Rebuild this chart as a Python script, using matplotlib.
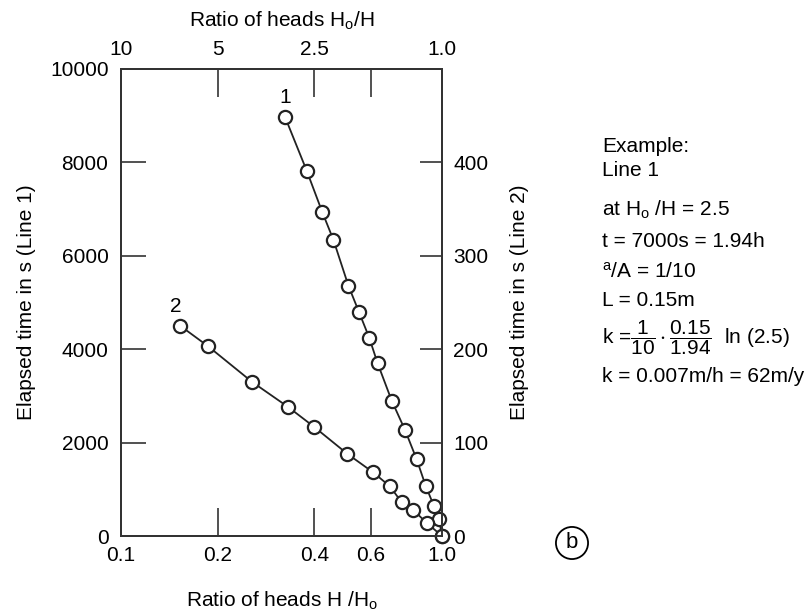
import numpy as np
import matplotlib
matplotlib.use("Agg")
import matplotlib.pyplot as plt

plt.rcParams['font.family'] = ['Liberation Sans', 'DejaVu Sans']
plt.rcParams['mathtext.fontset'] = 'custom'
plt.rcParams['mathtext.rm'] = 'Liberation Sans'
plt.rcParams['mathtext.it'] = 'Liberation Sans'
plt.rcParams['mathtext.default'] = 'regular'

# line 1 : H/Ho vs elapsed time in s (left axis)
ratio_line1 = [0.324, 0.379, 0.424, 0.459, 0.511, 0.551, 0.593, 0.630, 0.697,
               0.767, 0.834, 0.890, 0.944, 0.979, 1.0]
time_line1 = [8980, 7820, 6930, 6340, 5360, 4800, 4250, 3700, 2900,
              2270, 1640, 1070, 640, 360, 0]

# line 2 : H/Ho vs elapsed time in s (right axis)
ratio_line2 = [0.153, 0.187, 0.256, 0.332, 0.399, 0.507, 0.611, 0.689, 0.749,
               0.813, 0.896, 1.0]
time_line2 = [225, 203, 165, 138, 117, 88, 68, 53, 36, 28, 14, 0]

bottom_ticks = [0.1, 0.2, 0.4, 0.6, 1.0]
bottom_labels = ["0.1", "0.2", "0.4", "0.6", "1.0"]
top_ratio = [10, 5, 2.5, 1 / 0.6, 1.0]
top_labels = ["10", "5", "2.5", "", "1.0"]
left_ticks = [0, 2000, 4000, 6000, 8000, 10000]
right_ticks = [0, 100, 200, 300, 400]

example_lines = [
    "Example:",
    "Line 1",
    "at H$_o$ /H = 2.5",
    "t = 7000s = 1.94h",
    "$^a$/A = 1/10",
    "L = 0.15m",
    r"k =$\dfrac{1}{10}\cdot\dfrac{0.15}{1.94}$  ln (2.5)",
    "k = 0.007m/h = 62m/y",
]
example_y = [146, 170, 210, 242, 272, 300, 338, 377]  # pixel rows

W, H = 812, 613
fig = plt.figure(figsize=(W / 100, H / 100), dpi=100)
ax = fig.add_axes([121 / W, 1 - 536 / H, (442 - 121) / W, (536 - 69) / H])

fs = 15
dark = '#333333'

ax.set_xscale('log')
ax.set_xlim(0.1, 1.0)
ax.set_ylim(0, 10000)
ax.plot(ratio_line1, time_line1, color='#222222', lw=1.3, marker='o', ms=9.5,
        mfc='white', mec='#222222', mew=1.6, zorder=3, clip_on=False)
ax.set_xticks(bottom_ticks)
ax.set_xticklabels(bottom_labels)
ax.xaxis.set_minor_locator(matplotlib.ticker.NullLocator())
ax.set_yticks(left_ticks)
ax.tick_params(axis='x', direction='in', length=20, width=1.2, color=dark,
               labelsize=fs, pad=7)
ax.tick_params(axis='y', direction='in', length=18, width=1.2, color=dark,
               labelsize=fs, pad=9)
ax.set_xlabel("Ratio of heads H /H$_o$", fontsize=fs, labelpad=18)
ax.set_ylabel("Elapsed time in s (Line 1)", fontsize=fs, labelpad=10)
for s in ax.spines.values():
    s.set_linewidth(1.4)
    s.set_color(dark)

# right axis for line 2
axr = ax.twinx()
axr.set_ylim(0, 500)
axr.plot(ratio_line2, time_line2, color='#222222', lw=1.3, marker='o', ms=9.5,
         mfc='white', mec='#222222', mew=1.6, zorder=3, clip_on=False)
axr.set_yticks(right_ticks)
axr.tick_params(axis='y', direction='in', length=16, width=1.2, color=dark,
                labelsize=fs, pad=8)
axr.set_ylabel("Elapsed time in s (Line 2)", fontsize=fs, labelpad=16)
for s in axr.spines.values():
    s.set_linewidth(1.4)
    s.set_color(dark)

# top axis: Ho/H
axt = ax.twiny()
axt.set_xscale('log')
axt.set_xlim(0.1, 1.0)
axt.set_xticks([1 / r for r in top_ratio])
axt.set_xticklabels(top_labels)
axt.xaxis.set_minor_locator(matplotlib.ticker.NullLocator())
axt.tick_params(axis='x', direction='in', length=20, width=1.2, color=dark,
                labelsize=fs, pad=7)
axt.set_xlabel("Ratio of heads H$_o$/H", fontsize=fs, labelpad=10)
for s in axt.spines.values():
    s.set_linewidth(1.4)
    s.set_color(dark)

ax.annotate("1", (ratio_line1[0], time_line1[0]), xytext=(0, 7),
            textcoords='offset points', ha='center', va='bottom', fontsize=fs)
axr.annotate("2", (ratio_line2[0], time_line2[0]), xytext=(-3, 7),
             textcoords='offset points', ha='center', va='bottom', fontsize=fs)

for txt, yp in zip(example_lines, example_y):
    fig.text(602 / W, 1 - yp / H, txt, fontsize=fs, ha='left', va='center')

fig.text(572 / W, 1 - 543 / H, "b", fontsize=fs + 1, ha='center', va='center',
         bbox=dict(boxstyle='circle,pad=0.25', fc='white', ec='black', lw=1.3))

fig.savefig("out.png", dpi=100)
